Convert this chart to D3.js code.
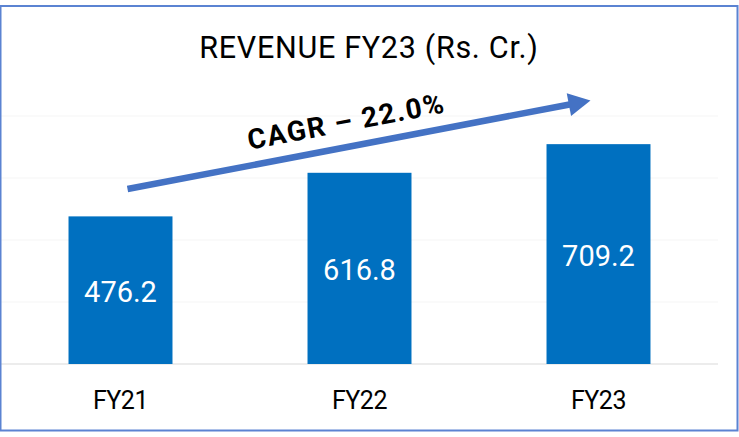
<!DOCTYPE html>
<html><head><meta charset="utf-8">
<script src="https://cdn.jsdelivr.net/npm/d3@7"></script>
<style>html,body{margin:0;padding:0;background:#fff;}svg{display:block;}</style>
</head><body>
<svg id="chart" width="739" height="437"></svg>
<script>
const categories = ["FY21", "FY22", "FY23"];
const revenue = [476.2, 616.8, 709.2];
const gridTicks = [0, 200, 400, 600, 800];
const titleText = "REVENUE FY23 (Rs. Cr.)";
const cagrText = "CAGR \u2013 22.0%";

const svg = d3.select("#chart");
const W = 739, H = 437;

svg.append("rect").attr("x", 0).attr("y", 0).attr("width", W).attr("height", H).attr("fill", "#fff");

const x = d3.scaleBand().domain(categories).range([1, 718]).paddingInner(0.565).paddingOuter(0.2825);
const y = d3.scaleLinear().domain([0, 800]).range([364, 116]);

// gridlines
svg.append("g").selectAll("line").data(gridTicks).join("line")
  .attr("x1", 1).attr("x2", 718)
  .attr("y1", d => y(d)).attr("y2", d => y(d))
  .attr("stroke", d => d === 0 ? "#ECECEC" : "#F5F5F5")
  .attr("stroke-width", d => d === 0 ? 2 : 1);

// bars
svg.append("g").selectAll("rect").data(revenue).join("rect")
  .attr("x", (d, i) => x(categories[i]))
  .attr("y", d => y(d))
  .attr("width", x.bandwidth())
  .attr("height", d => y(0) - y(d))
  .attr("fill", "#0070C0");

// value labels
svg.append("g").selectAll("text").data(revenue).join("text")
  .attr("x", (d, i) => x(categories[i]) + x.bandwidth() / 2)
  .attr("y", d => (y(d) + y(0)) / 2 + 12)
  .attr("text-anchor", "middle")
  .attr("fill", "#fff")
  .attr("font-family", "Roboto, sans-serif")
  .attr("font-size", 29)
  .text(d => d.toFixed(1));

// category axis labels
svg.append("g").selectAll("text").data(categories).join("text")
  .attr("x", d => x(d) + x.bandwidth() / 2)
  .attr("y", 409)
  .attr("text-anchor", "middle")
  .attr("fill", "#000")
  .attr("font-family", "Roboto, sans-serif")
  .attr("font-size", 25)
  .attr("letter-spacing", -0.5)
  .text(d => d);

// title
svg.append("text")
  .attr("x", 369).attr("y", 58)
  .attr("text-anchor", "middle")
  .attr("fill", "#000")
  .attr("font-family", "Roboto, sans-serif")
  .attr("font-size", 30.5)
  .attr("letter-spacing", 0.7)
  .text(titleText);

// CAGR arrow
const x0 = x(categories[0]) + x.bandwidth() / 2 + 7;
const x1 = x(categories[2]) + x.bandwidth() / 2 - 8;
const y0 = 189, y1 = 100.5;
const ang = Math.atan2(y1 - y0, x1 - x0);
const headLen = 22, headHalf = 11.5;
const bx = x1 - headLen * Math.cos(ang), by = y1 - headLen * Math.sin(ang);
svg.append("line")
  .attr("x1", x0).attr("y1", y0)
  .attr("x2", bx + 2 * Math.cos(ang)).attr("y2", by + 2 * Math.sin(ang))
  .attr("stroke", "#4472C4").attr("stroke-width", 6.5);
const px = -Math.sin(ang), py = Math.cos(ang);
svg.append("path")
  .attr("d", `M${x1},${y1} L${bx + px * headHalf},${by + py * headHalf} L${bx - px * headHalf},${by - py * headHalf} Z`)
  .attr("fill", "#4472C4");

const deg = ang * 180 / Math.PI;
svg.append("text")
  .attr("transform", `translate(348,131) rotate(${deg})`)
  .attr("text-anchor", "middle")
  .attr("fill", "#000")
  .attr("font-family", "Roboto, sans-serif")
  .attr("font-weight", "bold")
  .attr("font-size", 28)
  .attr("letter-spacing", 1.5)
  .text(cagrText);

// border
svg.append("rect")
  .attr("x", 0.5).attr("y", 6).attr("width", 737).attr("height", 424.5)
  .attr("fill", "none").attr("stroke", "#5B83D2").attr("stroke-width", 2);
</script>
</body></html>
